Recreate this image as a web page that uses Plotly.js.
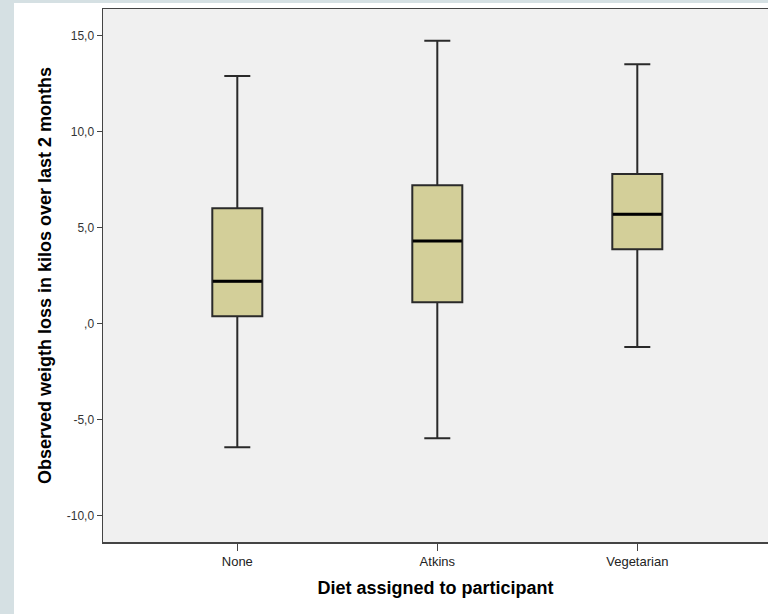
<!DOCTYPE html>
<html><head><meta charset="utf-8">
<script src="https://cdn.plot.ly/plotly-3.0.1.min.js"></script>
<style>
html,body{margin:0;padding:0;background:#d5e0e3;width:768px;height:614px;overflow:hidden;}
#chart{position:absolute;left:14px;top:3px;width:754px;height:611px;}
</style></head><body><div id="chart"></div>
<script>
const categories = ["None", "Atkins", "Vegetarian"];
const lowerWhisker = [-6.44, -5.97, -1.22];
const q1 = [0.38, 1.11, 3.87];
const median = [2.2, 4.29, 5.68];
const q3 = [6.0, 7.2, 7.78];
const upperWhisker = [12.88, 14.72, 13.5];
const yTickVals = [-10, -5, 0, 5, 10, 15];
const yTickText = ["-10,0", "-5,0", ",0", "5,0", "10,0", "15,0"];

const box = {
  type: 'box', x: categories, q1: q1, median: median, q3: q3,
  lowerfence: lowerWhisker, upperfence: upperWhisker,
  fillcolor: '#d3cf99', line: {color: '#2a2a2a', width: 2},
  width: 0.25, whiskerwidth: 0.52, boxpoints: false, hoverinfo: 'none', showlegend: false
};
const med = {
  type: 'scatter', mode: 'markers', x: categories, y: median,
  marker: {symbol: 'line-ew', size: 35, line: {color: '#000', width: 3}},
  hoverinfo: 'none', showlegend: false
};
const layout = {
  width: 754, height: 611,
  margin: {l: 89, r: 0, t: 6, b: 72},
  paper_bgcolor: '#ffffff', plot_bgcolor: '#f0f0f0',
  font: {family: 'Liberation Sans, Arial, sans-serif', color: '#333'},
  xaxis: {
    type: 'category', range: [-0.6715, 2.6535],
    showline: true, linecolor: '#444', linewidth: 1.5, mirror: true,
    ticks: 'outside', ticklen: 7, tickcolor: '#444', tickwidth: 1.5,
    showgrid: false, zeroline: false,
    tickfont: {size: 13, color: '#222'},
    title: {text: 'Diet assigned to participant', font: {size: 18, color: '#000', weight: 'bold'}, standoff: 13}
  },
  yaxis: {
    range: [-11.375, 16.37],
    tickvals: yTickVals, ticktext: yTickText,
    showline: true, linecolor: '#444', linewidth: 1.5,
    ticks: 'outside', ticklen: 5, tickcolor: '#444', tickwidth: 1.5,
    showgrid: false, zeroline: false,
    tickfont: {size: 12, color: '#333'},
    title: {text: 'Observed weigth loss in kilos over last 2 months', font: {size: 18, color: '#000', weight: 'bold'}, standoff: 10}
  }
};
Plotly.newPlot('chart', [box, med], layout, {displayModeBar: false, staticPlot: true});
</script></body></html>
